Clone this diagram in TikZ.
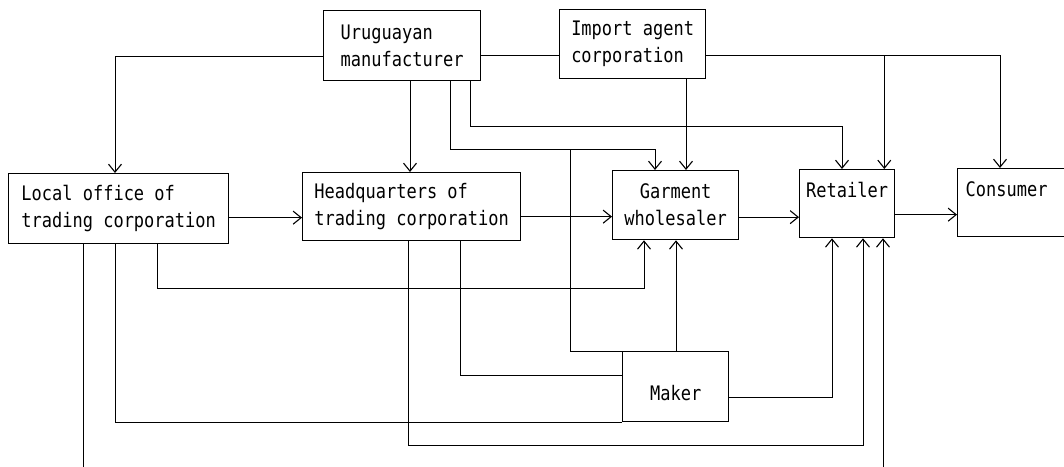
\documentclass[tikz,border=0pt]{standalone}
\usepackage{fontspec}
\newfontfamily\boxfont[FakeStretch=0.85]{DejaVu Sans Mono}
\usetikzlibrary{arrows.meta, calc}

\begin{document}
\begin{tikzpicture}[
    x=1pt, y=-1pt,
    box/.style={draw, line width=1.3pt, anchor=north west, align=left, inner sep=0pt,
        font=\boxfont\fontsize{20}{27}\selectfont},
    link/.style={line width=1pt},
    feed/.style={link, -{Straight Barb[length=8pt, width=13pt, line width=1.1pt]}},
]
\useasboundingbox (0, 0) rectangle (1064, 466);
\clip (0, 0) rectangle (1064, 466);

\node[box, minimum width=157pt, minimum height=70pt] (uru) at (323, 10) {Uruguayan\\manufacturer};
\node[box, minimum width=146pt, minimum height=69pt] (imp) at (559, 9) {Import agent\\corporation};
\node[box, minimum width=220pt, minimum height=70pt] (loc) at (8, 173) {Local office of\\trading corporation};
\node[box, minimum width=218pt, minimum height=68pt] (hq) at (302, 172) {Headquarters of\\trading corporation};
\node[box, minimum width=126pt, minimum height=69pt, align=center] (whs) at (612, 170) {Garment\\wholesaler};
\node[box, minimum width=95pt, minimum height=68pt] (ret) at (799, 169) {Retailer\\\mbox{}};
\node[box, minimum width=130pt, minimum height=68pt] (con) at (957, 168) {\hspace*{-32pt}Consumer\\\mbox{}};
\node[box, minimum width=106pt, minimum height=70pt, align=center] (mak) at (622, 351) {\mbox{}\\Maker};

% from the manufacturer
\draw[feed] ($(uru.west)+(0, 11)$) -| ($(loc.north west)+(107, 0)$);
\draw[feed] ($(uru.south west)+(87, 0)$) -- ($(hq.north west)+(108, 0)$);
\draw[link] ($(uru.east)+(0, 10)$) coordinate (u1) -- (u1 -| imp.west);
\draw[feed] ($(uru.south west)+(127, 0)$) -- ++(0, 68) -| ($(whs.north west)+(43, 0)$);
\draw[link] (mak.north west) -| ($(uru.south west)+(247, 68)$);
\draw[feed] ($(uru.south west)+(147, 0)$) -- ++(0, 45) -| ($(ret.north west)+(43, 0)$);

% from the import agent
\draw[feed] ($(imp.south west)+(127, 0)$) -- ($(whs.north west)+(74, 0)$);
\draw[feed] ($(imp.east)+(0, 11)$) coordinate (i1) -| ($(con.north west)+(43, 0)$);
\draw[feed] (i1 -| ret.north east) ++(-11, 0) coordinate (i2) -- (i2 |- ret.north);

% main chain
\draw[feed] ($(loc.east)+(0, 9)$) coordinate (c1) -- (c1 -| hq.west);
\draw[feed] ($(hq.east)+(0, 10)$) coordinate (c2) -- (c2 -| whs.west);
\draw[feed] ($(whs.east)+(0, 12)$) coordinate (c3) -- (c3 -| ret.west);
\draw[feed] ($(ret.east)+(0, 11)$) coordinate (c4) -- (c4 -| con.west);

% from below
\draw[feed] ($(loc.south west)+(149, 0)$) -- ++(0, 44) -| ($(whs.south west)+(32, 0)$);
\draw[link] ($(loc.south west)+(107, 0)$) |- (mak.south west);
\draw[feed] ($(loc.south west)+(75, 0)$) -- ++(0, 240) -| ($(ret.south west)+(84, 0)$);
\draw[feed] ($(hq.south west)+(106, 0)$) -- ++(0, 204) -| ($(ret.south west)+(64, 0)$);
\draw[link] ($(hq.south west)+(158, 0)$) |- ($(mak.north west)+(0, 24)$);
\draw[feed] ($(mak.north west)+(54, 0)$) -- ($(whs.south west)+(64, 0)$);
\draw[feed] ($(mak.east)+(0, 11)$) -| ($(ret.south west)+(33, 0)$);
\end{tikzpicture}
\end{document}
